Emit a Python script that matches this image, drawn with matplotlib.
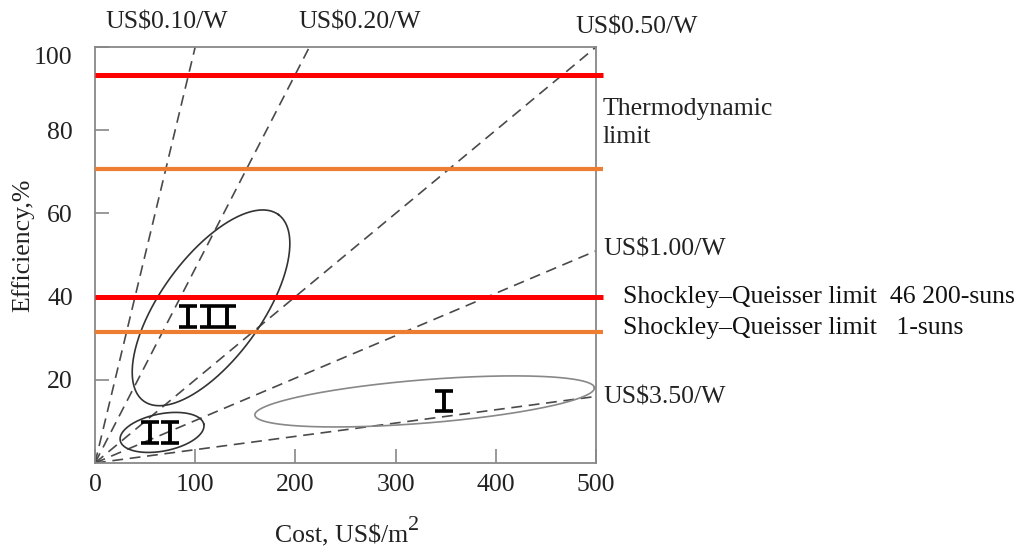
import numpy as np
import matplotlib
matplotlib.use('Agg')
import matplotlib.pyplot as plt
from matplotlib.transforms import ScaledTranslation

plt.rcParams['font.family'] = ['Liberation Serif', 'DejaVu Serif']
plt.rcParams['text.parse_math'] = False

# %% data

# horizontal limit lines (efficiency, %)
limit_eff = [93.2, 70.6, 39.8, 31.6]
limit_colors = ['#ff0000', '#ed7d31', '#ff0000', '#ed7d31']
limit_widths = [3.6, 3.0, 3.6, 3.0]

# cost-per-watt lines: from the origin to their end point on the frame
price_labels = ['US$0.10/W', 'US$0.20/W', 'US$0.50/W', 'US$1.00/W', 'US$3.50/W']
price_end_cost = [100, 214, 500, 500, 500]
price_end_eff = [100, 100, 100, 51, 16]

# technology regions (centre cost, centre eff, semi-axes in cost units, tilt in degrees)
region_cost = [115.8, 66.9, 329.0]
region_eff = [37.3, 7.35, 14.8]
region_a = [114.8, 42.5, 170.0]
region_b = [50.5, 18.6, 21.6]
region_angle = [54.2, 11.0, 4.6]
region_colors = ['#333333', '#333333', '#888888']

# measured cells (cost, efficiency, +- error)
cell_cost = [93, 114, 132, 55, 75, 348]
cell_eff = [35.2, 35.2, 35.2, 7.35, 7.35, 14.9]
cell_err = [2.45, 2.45, 2.45, 2.6, 2.6, 2.5]

x_ticks = [0, 100, 200, 300, 400, 500]
y_ticks = [20, 40, 60, 80, 100]

# %% figure

fig = plt.figure(figsize=(10.24, 5.46), dpi=100)
ax = fig.add_axes([95 / 1024, 83 / 546, 501 / 1024, 416 / 546])
ax.set_xlim(0, 500)
ax.set_ylim(0, 100)

for s in ax.spines.values():
    s.set_color('#888888')
    s.set_linewidth(1.3)

fs = 18.5
ax.set_xticks(x_ticks)
ax.set_yticks(y_ticks)
ax.tick_params(direction='in', length=10, width=1.2, color='#888888',
               labelsize=fs, labelcolor='#222222')
ax.tick_params(axis='x', pad=8)
ax.tick_params(axis='y', pad=16)

# dashed cost-per-watt lines
for c, e in zip(price_end_cost, price_end_eff):
    ax.plot([0, c], [0, e], color='#4a4a4a', lw=1.2, dashes=(6.5, 4), zorder=2)

# ellipses, built in a frame where x and y pixels have the same size
fig.canvas.draw()
bb = ax.get_window_extent()
k = (bb.height / 100) / (bb.width / 500)
t = np.linspace(0, 2 * np.pi, 400)
for cx, cy, a, b, ang, col in zip(region_cost, region_eff, region_a, region_b,
                                  region_angle, region_colors):
    th = np.radians(ang)
    u = a * np.cos(t) * np.cos(th) - b * np.sin(t) * np.sin(th)
    v = a * np.cos(t) * np.sin(th) + b * np.sin(t) * np.cos(th)
    ax.plot(cx + u, cy + v / k, color=col, lw=1.2, zorder=2)

# limit lines, a bit past the right frame
for e, col, w in zip(limit_eff, limit_colors, limit_widths):
    ax.plot([0, 507], [e, e], color=col, lw=w, solid_capstyle='butt',
            clip_on=False, zorder=3)

# cells
ax.errorbar(cell_cost, cell_eff, yerr=cell_err, fmt='none', ecolor='black',
            elinewidth=2.8, capsize=6.5, capthick=2.6, zorder=4)

# %% texts

ax.text(10, 106, price_labels[0], fontsize=fs, va='center', color='#222222', clip_on=False)
ax.text(202.6, 106, price_labels[1], fontsize=fs, va='center', color='#222222', clip_on=False)
ax.text(479, 104.8, price_labels[2], fontsize=fs, va='center', color='#222222', clip_on=False)
ax.text(507, 51.3, price_labels[3], fontsize=fs, va='center', color='#222222', clip_on=False)
ax.text(507, 15.7, price_labels[4], fontsize=fs, va='center', color='#222222', clip_on=False)
ax.text(507, 85.1, 'Thermodynamic', fontsize=fs, va='center', color='#222222', clip_on=False)
ax.text(507, 78.3, 'limit', fontsize=fs, va='center', color='#222222', clip_on=False)
ax.text(527, 39.8, 'Shockley\u2013Queisser limit  46 200-suns', fontsize=fs, va='center',
        color='#111111', clip_on=False)
ax.text(527, 32.5, 'Shockley\u2013Queisser limit   1-suns', fontsize=fs, va='center',
        color='#111111', clip_on=False)

fig.text(23 / 1024, 1 - 245 / 546, 'Efficiency,%', rotation=90, fontsize=fs,
         ha='center', va='center', color='#222222')
xl = fig.text(275 / 1024, 1 - 536 / 546, 'Cost, US$/m', fontsize=fs,
              ha='left', va='center', color='#222222')
ax.annotate('2', xy=(1.0, 0.55), xycoords=xl, fontsize=16, ha='left', va='bottom',
            color='#222222', annotation_clip=False)

# the "100" label sits a little lower than its tick
lab = ax.get_yticklabels()[-1]
lab.set_transform(lab.get_transform() + ScaledTranslation(0, -0.09, fig.dpi_scale_trans))

fig.savefig('out.png', dpi=100)
